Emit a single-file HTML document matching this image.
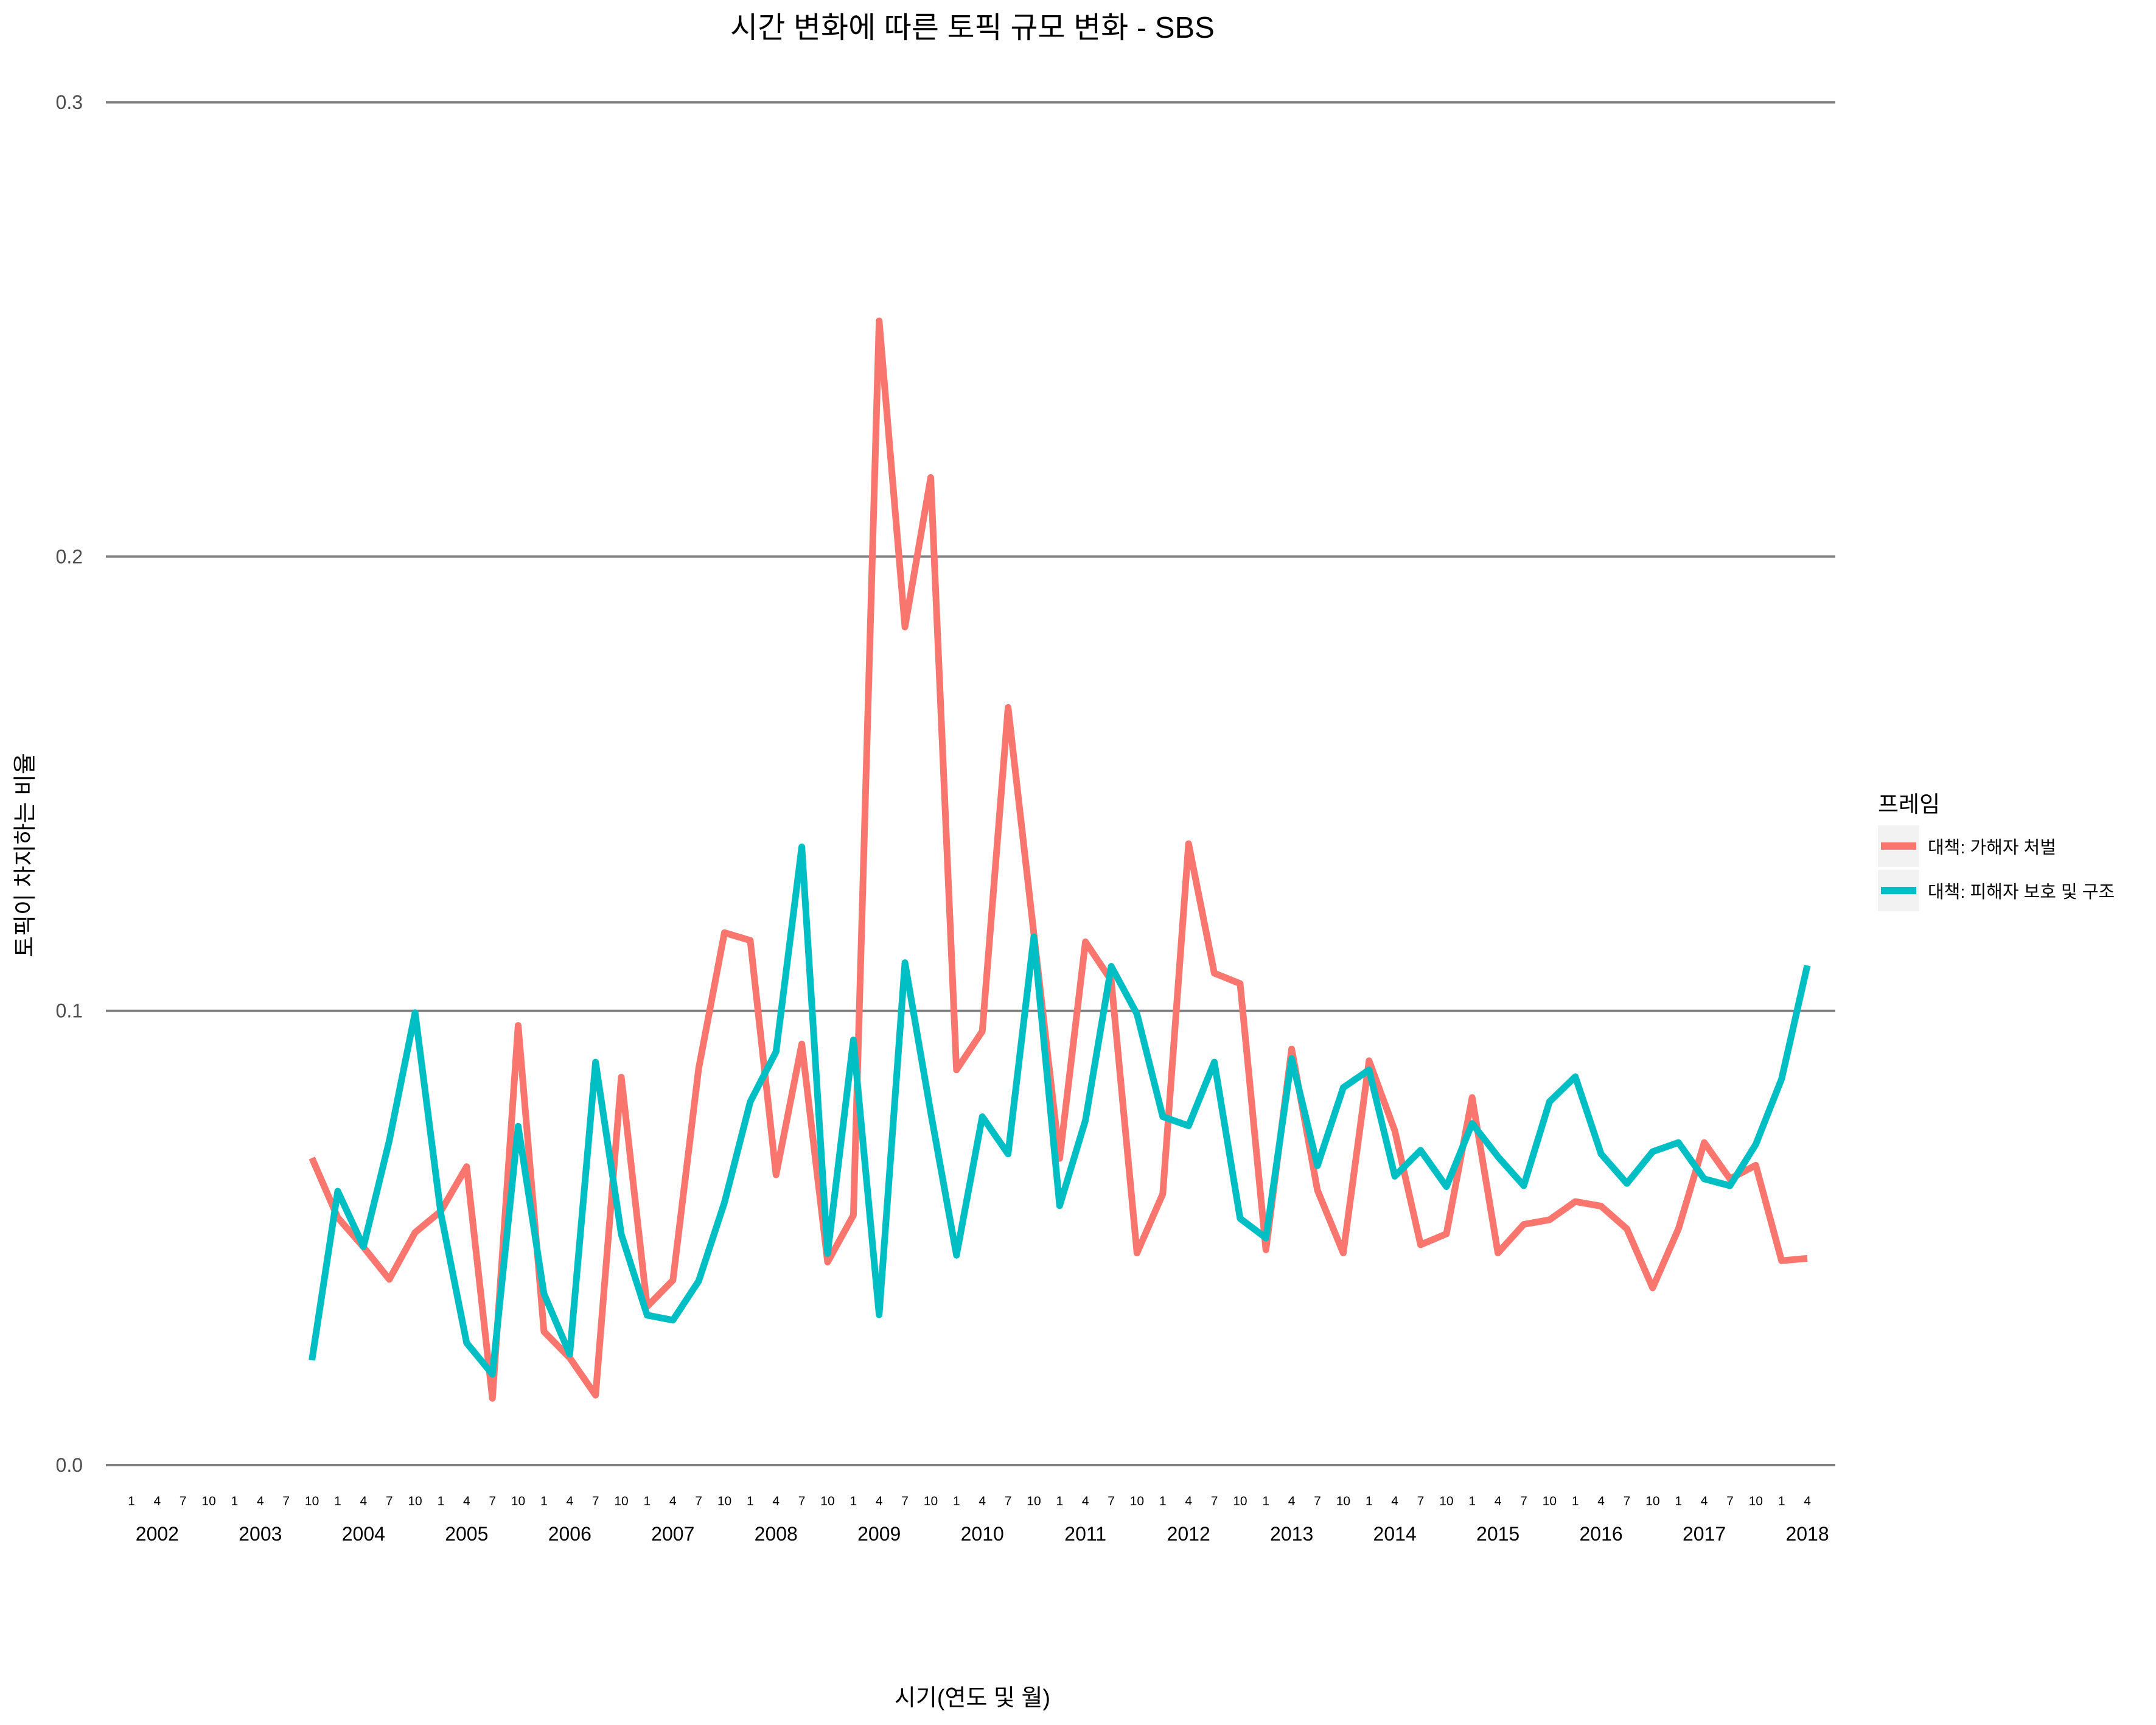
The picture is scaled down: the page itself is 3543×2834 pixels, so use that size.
<!DOCTYPE html>
<html><head><meta charset="utf-8">
<style>
html,body{margin:0;padding:0;background:#fff;}
svg{display:block;}
text{font-family:"Liberation Sans","Noto Sans CJK KR",sans-serif;}
</style></head>
<body>
<svg id="chart" width="3543" height="2834" viewBox="0 0 3543 2834" xmlns="http://www.w3.org/2000/svg">
<rect width="3543" height="2834" fill="#fff"/>
<text x="1598" y="62" font-size="49" text-anchor="middle" fill="#000">시간 변화에 따른 토픽 규모 변화 - SBS</text>
<g id="grid"></g>
<g id="yticks"></g>
<g id="xticks"></g>
<g id="series"></g>
<text x="1598" y="2802" font-size="38" text-anchor="middle" fill="#000">시기(연도 및 월)</text>
<text transform="translate(54,1405) rotate(-90)" font-size="38" text-anchor="middle" fill="#000">토픽이 차지하는 비율</text>
<g>
<text x="3086" y="1334" font-size="37" fill="#000">프레임</text>
<g>
<rect x="3086" y="1356" width="68" height="68" fill="#f2f2f2"/>
<line x1="3091" y1="1390" x2="3149" y2="1390" stroke="#F8766D" stroke-width="12"/>
<text x="3168" y="1402" font-size="29" fill="#000">대책: 가해자 처벌</text>
</g>
<g>
<rect x="3086" y="1429" width="68" height="68" fill="#f2f2f2"/>
<line x1="3091" y1="1463" x2="3149" y2="1463" stroke="#00BFC4" stroke-width="12"/>
<text x="3168" y="1475" font-size="29" fill="#000">대책: 피해자 보호 및 구조</text>
</g>
</g>
</svg>
<script>
const years = [2002,2003,2004,2005,2006,2007,2008,2009,2010,2011,2012,2013,2014,2015,2016,2017,2018];
const months = [1,4,7,10];
const yTicks = [0.0,0.1,0.2,0.3];
const yTickLabels = ["0.0","0.1","0.2","0.3"];
const startIndex = 7;
const punishment = [0.0676,0.0545,0.048,0.0409,0.0512,0.0559,0.0657,0.0147,0.0968,0.0294,0.0236,0.0154,0.0854,0.0349,0.0407,0.0873,0.1172,0.1155,0.0639,0.0927,0.0447,0.055,0.2519,0.1845,0.2174,0.087,0.0955,0.1668,0.117,0.0675,0.1152,0.1067,0.0467,0.0597,0.1368,0.1083,0.106,0.0474,0.0916,0.0605,0.0467,0.089,0.0736,0.0485,0.0509,0.0809,0.0467,0.053,0.054,0.058,0.057,0.052,0.039,0.052,0.071,0.063,0.066,0.045,0.0455];
const protection = [0.0231,0.0603,0.0481,0.0714,0.0996,0.0554,0.0269,0.020,0.0746,0.0377,0.0244,0.0887,0.0508,0.033,0.0319,0.0405,0.0578,0.08,0.091,0.1361,0.0466,0.0936,0.0331,0.1106,0.0776,0.0462,0.0767,0.0685,0.1163,0.0571,0.0759,0.1098,0.0993,0.0767,0.0747,0.0887,0.0543,0.050,0.0895,0.0659,0.0831,0.087,0.0636,0.0693,0.0613,0.0752,0.0679,0.0615,0.080,0.0855,0.0685,0.062,0.069,0.071,0.063,0.0615,0.0706,0.085,0.110];
const NS='http://www.w3.org/2000/svg';
const X0=216, XSTEP=42.37, Y0=2407, YPER=7463;
function xPos(i){return X0+XSTEP*i;}
function yPos(v){return Y0-v*YPER;}
function mk(tag,attrs,parent){const e=document.createElementNS(NS,tag);for(const k in attrs)e.setAttribute(k,attrs[k]);parent.appendChild(e);return e;}
const grid=document.getElementById('grid'), yt=document.getElementById('yticks'), xt=document.getElementById('xticks'), ser=document.getElementById('series');
yTicks.forEach((v,k)=>{
  const l=mk('line',{x1:174,x2:3016,y1:yPos(v),y2:yPos(v),stroke:'#808080','stroke-width':4},grid);
  
  
  const t=mk('text',{x:136,y:yPos(v)+11,'font-size':32,'text-anchor':'end',fill:'#4d4d4d'},yt);
  t.textContent=yTickLabels[k];
  
  
});
let idx=0;
years.forEach((yr,yi)=>{
  months.forEach(m=>{
    if(yr===2018 && m>4) return;
    const t=mk('text',{x:xPos(idx),y:2473,'font-size':21,'text-anchor':'middle',fill:'#000'},xt);
    t.textContent=m;
    
    
    idx++;
  });
  const yx = yr===2018 ? xPos(65) : xPos(yi*4+1);
  const t=mk('text',{x:yx,y:2531,'font-size':32,'text-anchor':'middle',fill:'#000'},xt);
  t.textContent=yr;
  
  
});
function drawSeries(vals,color,name){
  const pts=vals.map((v,k)=>xPos(startIndex+k).toFixed(1)+','+yPos(v).toFixed(1)).join(' ');
  const p=mk('polyline',{points:pts,fill:'none',stroke:color,'stroke-width':11,'stroke-linejoin':'round'},ser);
  
  
}
drawSeries(punishment,'#F8766D','line-punishment');
drawSeries(protection,'#00BFC4','line-protection');
</script>
</body></html>
